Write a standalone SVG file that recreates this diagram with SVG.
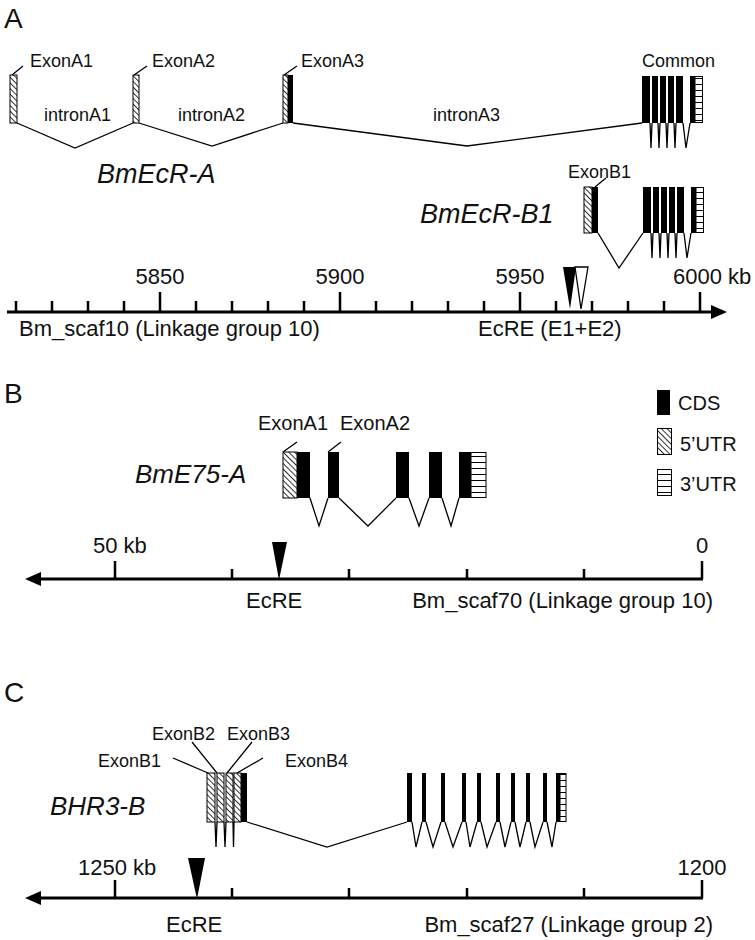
<svg xmlns="http://www.w3.org/2000/svg" width="755" height="940" viewBox="0 0 755 940">
<defs>
<pattern id="hatch" width="4" height="4" patternUnits="userSpaceOnUse" patternTransform="rotate(-45)">
<rect width="4" height="4" fill="#fff"/>
<line x1="0" y1="0" x2="0" y2="4" stroke="#000" stroke-width="1.6"/>
</pattern>
<pattern id="stripe" width="6" height="6" patternUnits="userSpaceOnUse" y="0">
<rect width="6" height="6" fill="#fff"/>
<line x1="0" y1="0" x2="6" y2="0" stroke="#000" stroke-width="2"/>
</pattern>
<style>
.t{font-family:"Liberation Sans",Arial,sans-serif;font-size:18px;fill:#111}
.ax{font-size:22px}
.lg{font-size:20px}
.pl{font-size:28px}
.it{font-style:italic;font-size:27px}
.cds{fill:#000}
.u5{fill:url(#hatch);stroke:#000;stroke-width:1}
.u3{fill:url(#stripe);stroke:#000;stroke-width:1}
.ln{stroke:#000;stroke-width:1.3;fill:none}
.axl{stroke:#000;stroke-width:3;fill:none}
.tk{stroke:#000;stroke-width:2.5}
</style>
</defs>
<rect width="755" height="940" fill="#fff"/>

<!-- Panel A -->
<g id="panelA-label"><text class="t pl" x="4" y="28">A</text></g>
<g id="exonA1"><rect class="u5" x="10" y="75" width="7" height="48"/><text class="t" x="30" y="67">ExonA1</text></g>
<g id="exonA2"><rect class="u5" x="133" y="75" width="6" height="48"/><text class="t" x="152" y="67">ExonA2</text></g>
<g id="exonA3"><rect class="u5" x="283" y="75" width="5" height="48"/><rect class="cds" x="288" y="75" width="5" height="48"/><text class="t" x="301" y="67">ExonA3</text></g>
<g id="intron-labels"><text class="t" x="44" y="121">intronA1</text><text class="t" x="178" y="121">intronA2</text><text class="t" x="433" y="121">intronA3</text></g>
<g id="commonA">
<text class="t" x="642" y="67">Common</text>
<rect class="cds" x="642" y="76" width="8" height="47"/>
<rect class="cds" x="652" y="76" width="6" height="47"/>
<rect class="cds" x="660" y="76" width="6" height="47"/>
<rect class="cds" x="668" y="76" width="6" height="47"/>
<rect class="cds" x="676" y="76" width="7" height="47"/>
<rect class="cds" x="690" y="76" width="5" height="47"/>
<rect class="u3" x="695" y="76.5" width="7.5" height="46"/>
</g>
<g id="BmEcR-A"><text class="t it" x="97" y="183">BmEcR-A</text></g>
<g id="BmEcR-B1"><text class="t it" x="420" y="223">BmEcR-B1</text></g>
<g id="exonB1"><rect class="u5" x="584" y="187" width="8" height="46"/><rect class="cds" x="592" y="187" width="6" height="46"/><text class="t" x="568" y="178">ExonB1</text></g>
<g id="commonB1">
<rect class="cds" x="643" y="187" width="8" height="46"/>
<rect class="cds" x="653" y="187" width="6" height="46"/>
<rect class="cds" x="661" y="187" width="6" height="46"/>
<rect class="cds" x="669" y="187" width="6" height="46"/>
<rect class="cds" x="677" y="187" width="7" height="46"/>
<rect class="cds" x="691" y="187" width="5" height="46"/>
<rect class="u3" x="696" y="187.5" width="7.5" height="45"/>
</g>
<g id="axisA">
<line class="axl" x1="7" y1="312" x2="714" y2="312"/>
<polygon points="711,305 727,312 711,319" fill="#000"/>
<path class="tk" d="M16,301V312M52,301V312M88,301V312M124,301V312M160,292V312M196,301V312M232,301V312M268,301V312M304,301V312M340,292V312M376,301V312M412,301V312M448,301V312M484,301V312M520,292V312M556,301V312M592,301V312M628,301V312M664,301V312M700,292V312"/>
<text class="t ax" x="160" y="284" text-anchor="middle">5850</text>
<text class="t ax" x="340" y="284" text-anchor="middle">5900</text>
<text class="t ax" x="520" y="284" text-anchor="middle">5950</text>
<text class="t ax" x="673" y="284">6000 kb</text>
<text class="t ax" x="19" y="336">Bm_scaf10 (Linkage group 10)</text>
</g>
<g id="EcRE-A">
<polygon points="563,267 576,267 570,309" fill="#000"/>
<polygon points="575,267 588,267 581,309" fill="#fff" stroke="#000" stroke-width="1.3"/>
<text class="t ax" x="478" y="336">EcRE (E1+E2)</text>
</g>

<!-- Panel B -->
<g id="panelB-label"><text class="t pl" x="4" y="403">B</text></g>
<g id="BmE75-A"><text class="t it" x="135" y="483" style="font-size:26px">BmE75-A</text></g>
<g id="E75-exon1"><rect class="u5" x="283" y="452" width="14" height="46"/><rect class="cds" x="297" y="452" width="13" height="46"/><text class="t lg" x="258" y="430">ExonA1</text></g>
<g id="E75-exon2"><rect class="cds" x="328" y="452" width="11" height="46"/><text class="t lg" x="340" y="430">ExonA2</text></g>
<g id="E75-exon3"><rect class="cds" x="396" y="452" width="13" height="46"/></g>
<g id="E75-exon4"><rect class="cds" x="429" y="452" width="13" height="46"/></g>
<g id="E75-exon5"><rect class="cds" x="459" y="452" width="12" height="46"/><rect class="u3" x="471" y="452.5" width="15" height="45"/></g>
<g id="legend">
<rect class="cds" x="657" y="390" width="13" height="25"/><text class="t lg" x="678" y="410">CDS</text>
<rect class="u5" x="657.5" y="428.5" width="14" height="26"/><text class="t lg" x="680" y="451">5’UTR</text>
<rect class="u3" x="657.5" y="469.5" width="14" height="26"/><text class="t lg" x="680" y="491">3’UTR</text>
</g>
<g id="axisB">
<line class="axl" x1="38" y1="579" x2="703" y2="579"/>
<polygon points="41,572 25,579 41,586" fill="#000"/>
<path class="tk" d="M115,561V579M232,569V579M349,569V579M467,569V579M584,569V579M702,561V579"/>
<text class="t ax" x="93" y="553">50 kb</text>
<text class="t ax" x="702" y="553" text-anchor="middle">0</text>
<text class="t ax" x="713" y="608" text-anchor="end">Bm_scaf70 (Linkage group 10)</text>
</g>
<g id="EcRE-B"><polygon points="272,542 287,542 279,580" fill="#000"/><text class="t ax" x="246" y="608">EcRE</text></g>

<!-- Panel C -->
<g id="panelC-label"><text class="t pl" x="4" y="702">C</text></g>
<g id="BHR3-B"><text class="t it" x="50" y="815" style="font-size:26px">BHR3-B</text></g>
<g id="exonB1-C"><rect class="u5" x="207" y="773" width="8" height="49"/><text class="t" x="98" y="767">ExonB1</text></g>
<g id="exonB2-C"><rect class="u5" x="217" y="773" width="7" height="49"/><text class="t" x="152" y="740">ExonB2</text></g>
<g id="exonB3-C"><rect class="u5" x="226" y="773" width="7" height="49"/><text class="t" x="227" y="740">ExonB3</text></g>
<g id="exonB4-C"><rect class="u5" x="234" y="773" width="7" height="49"/><rect class="cds" x="241" y="773" width="6" height="49"/><text class="t" x="285" y="767">ExonB4</text></g>
<g id="BHR3-common">
<rect class="cds" x="407" y="773" width="5" height="49"/>
<rect class="cds" x="422" y="773" width="4" height="49"/>
<rect class="cds" x="441" y="773" width="4" height="49"/>
<rect class="cds" x="462" y="773" width="4" height="49"/>
<rect class="cds" x="477" y="773" width="4" height="49"/>
<rect class="cds" x="496" y="773" width="4" height="49"/>
<rect class="cds" x="511" y="773" width="4" height="49"/>
<rect class="cds" x="526" y="773" width="4" height="49"/>
<rect class="cds" x="543" y="773" width="4" height="49"/>
<rect class="cds" x="556" y="773" width="4" height="49"/>
<rect class="u3" x="560" y="773.5" width="6" height="48"/>
</g>
<g id="axisC">
<line class="axl" x1="38" y1="898" x2="703" y2="898"/>
<polygon points="41,891 25,898 41,905" fill="#000"/>
<path class="tk" d="M115,880V898M232,888V898M349,888V898M467,888V898M584,888V898M702,880V898"/>
<text class="t ax" x="78" y="875">1250 kb</text>
<text class="t ax" x="702" y="875" text-anchor="middle">1200</text>
<text class="t ax" x="713" y="932" text-anchor="end">Bm_scaf27 (Linkage group 2)</text>
</g>
<g id="EcRE-C"><polygon points="188,858 205,858 197,899" fill="#000"/><text class="t ax" x="166" y="932">EcRE</text></g>

<!-- connectors -->
<g id="connectors" class="ln">
<path d="M12,75L23,66M134,75L147,66M284,75L297,66"/>
<path d="M17,123L75,148L133,123M139,123L212,146L283,123M293,123L467,146L642,123"/>
<path d="M650,123L651,148L652,123M658,123L659,148L660,123M666,123L667,148L668,123M674,123L675,148L676,123M683,123L686,148L690,123"/>
<path d="M595,187L606,178"/>
<path d="M598,233L619,268L643,233"/>
<path d="M651,233L652,258L653,233M659,233L660,258L661,233M667,233L668,258L669,233M675,233L676,258L677,233M684,233L687,258L691,233"/>
<path d="M283,452L297,442M328,452L341,442"/>
<path d="M310,498L319,526L328,498M339,498L368,526L396,498M409,498L419,526L429,498M442,498L451,526L459,498"/>
<path d="M208,773L173,758M217,773L192,742M227,773L252,742M237,773L263,758"/>
<path d="M215,822L216,847L217,822M224,822L225,847L226,822M233,822L233.5,847L234,822"/>
<path d="M247,822L327,847L407,822"/>
<path d="M412,822L416,847L422,822M426,822L433,847L441,822M445,822L453,847L462,822M466,822L470,847L477,822M481,822L487,847L496,822M500,822L505,847L511,822M515,822L520,847L526,822M530,822L535,847L543,822M547,822L552,847L556,822"/>
</g>
</svg>
